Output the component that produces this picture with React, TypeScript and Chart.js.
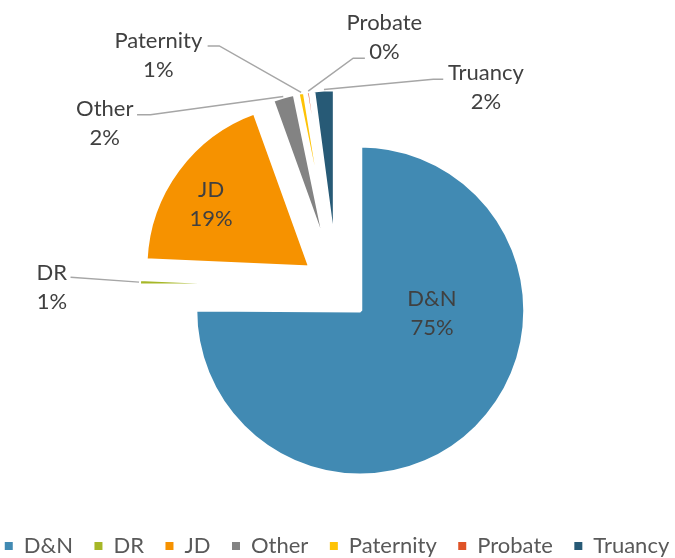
import React, { useEffect, useRef } from "react";
import { Chart, registerables } from "chart.js";

Chart.register(...registerables);

// ---- data ----
const categories = ["D&N", "DR", "JD", "Other", "Paternity", "Probate", "Truancy"];
const shares = [75.1, 0.6, 18.8, 2.25, 0.7, 0.45, 2.1];
const colors = ["#418AB3", "#A6B727", "#F69200", "#838383", "#FEC306", "#DF5327", "#275A76"];

// ---- style / layout ----
const FONT = "Lato";
const FONT_SIZE = 22;
const LINE_GAP = 29;
const EXPLODE = 33;
const RADIUS = 165;
const CANVAS_W = 735;
const CANVAS_H = 567;
const SHIFT_X = 30;

type LabelLayout = {
  inside: boolean;
  dx: number;
  dy: number;
  ax?: number;
  ay?: number;
  stub?: number;
};

// inside: offset from slice vertex; outside: offset from outer mid point of slice
const labelLayout: LabelLayout[] = [
  { inside: true, dx: 71.7, dy: 2.5 },
  { inside: false, dx: -87.2, dy: 4.1, ax: 18.7, ay: -9, stub: 0 },
  { inside: true, dx: -99.3, dy: -64.2 },
  { inside: false, dx: -178.5, dy: 26.3, ax: 32.3, ay: -8.2, stub: 13.4 },
  { inside: false, dx: -142.8, dy: -37.7, ax: 49.3, ay: -8.8, stub: 11.7 },
  { inside: false, dx: 76.2, dy: -54.3, ax: -19.5, ay: 21.3, stub: -11.7 },
  { inside: false, dx: 162, dy: -3.1, ax: -42.7, ay: -7.2, stub: -10 },
];

const explodePlugin = {
  id: "explode",
  afterDatasetsUpdate(chart: any) {
    const meta = chart.getDatasetMeta(0);
    meta.data.forEach((arc: any) => {
      const mid = (arc.startAngle + arc.endAngle) / 2;
      arc.x += Math.cos(mid) * EXPLODE;
      arc.y += Math.sin(mid) * EXPLODE;
    });
  },
};

const labelPlugin = {
  id: "sliceLabels",
  afterDatasetsDraw(chart: any) {
    const ctx = chart.ctx as CanvasRenderingContext2D;
    const meta = chart.getDatasetMeta(0);
    const total = shares.reduce((a, b) => a + b, 0);
    const capH = FONT_SIZE * 0.7165;
    ctx.save();
    ctx.font = `${FONT_SIZE}px ${FONT}`;
    ctx.textAlign = "center";
    ctx.textBaseline = "alphabetic";
    meta.data.forEach((arc: any, i: number) => {
      const lay = labelLayout[i];
      const mid = (arc.startAngle + arc.endAngle) / 2;
      let cx: number, cy: number;
      if (lay.inside) {
        cx = arc.x + lay.dx;
        cy = arc.y + lay.dy;
      } else {
        const ox = arc.x + Math.cos(mid) * arc.outerRadius;
        const oy = arc.y + Math.sin(mid) * arc.outerRadius;
        cx = ox + lay.dx;
        cy = oy + lay.dy;
        const sx = cx + (lay.ax || 0);
        const sy = cy + (lay.ay || 0);
        ctx.beginPath();
        ctx.strokeStyle = "#A6A6A6";
        ctx.lineWidth = 1.5;
        ctx.moveTo(sx, sy);
        if (lay.stub) ctx.lineTo(sx + lay.stub, sy);
        ctx.lineTo(ox, oy);
        ctx.stroke();
      }
      const pct = Math.round((shares[i] / total) * 100) + "%";
      ctx.fillStyle = "#404040";
      ctx.fillText(categories[i], cx, cy - LINE_GAP / 2 + capH / 2);
      ctx.fillText(pct, cx, cy + LINE_GAP / 2 + capH / 2);
    });
    ctx.restore();
  },
};

export default function App() {
  const ref = useRef<HTMLCanvasElement>(null);
  useEffect(() => {
    const chart = new Chart(ref.current as HTMLCanvasElement, {
      type: "pie",
      data: {
        labels: categories,
        datasets: [
          {
            data: shares,
            backgroundColor: colors,
            borderColor: "#FFFFFF",
            borderWidth: 4,
          },
        ],
      },
      options: {
        responsive: false,
        animation: false,
        devicePixelRatio: 1,
        radius: RADIUS,
        layout: { padding: { top: 60.7, left: 0, right: 1, bottom: 0 } },
        plugins: {
          tooltip: { enabled: false },
          legend: {
            position: "bottom",
            labels: {
              usePointStyle: true,
              pointStyle: "rect",
              boxWidth: 8,
              boxHeight: 8,
              padding: 21.5,
              color: "#595959",
              font: { family: FONT, size: FONT_SIZE },
              generateLabels: () =>
                categories.map((c, i) => ({
                  text: c,
                  fillStyle: colors[i],
                  strokeStyle: colors[i],
                  lineWidth: 0,
                  hidden: false,
                  index: i,
                  pointStyle: "rect",
                  fontColor: "#595959",
                })),
            },
          },
        },
      } as any,
      plugins: [explodePlugin, labelPlugin],
    });
    return () => chart.destroy();
  }, []);
  return (
    <div
      style={{
        position: "fixed",
        left: 0,
        top: 0,
        width: 675,
        height: 558,
        overflow: "hidden",
        background: "#fff",
      }}
    >
      <canvas
        ref={ref}
        width={CANVAS_W}
        height={CANVAS_H}
        style={{ display: "block", marginLeft: -SHIFT_X }}
      />
    </div>
  );
}
